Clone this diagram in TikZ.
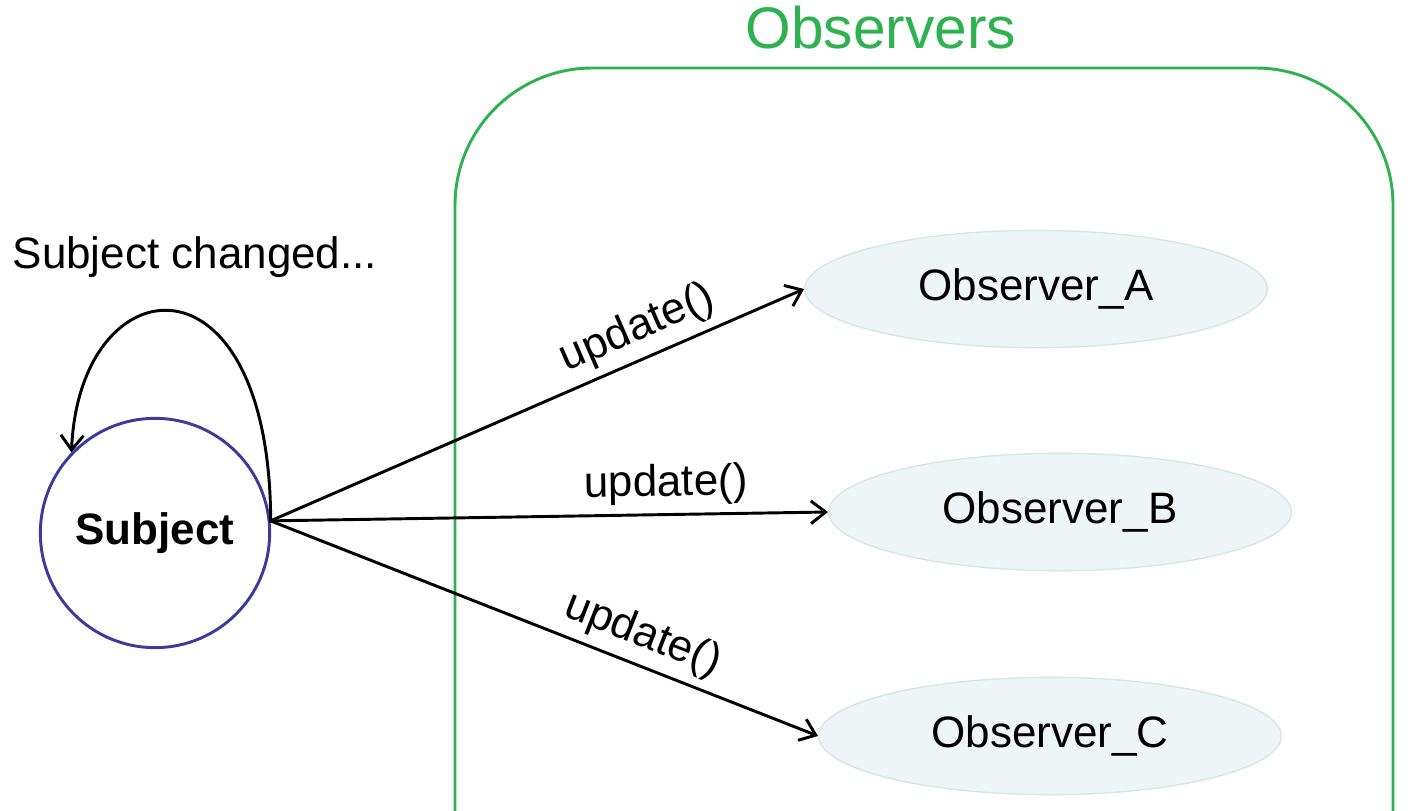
\documentclass[tikz,border=0pt]{standalone}
\usepackage{fontspec}
\setmainfont{Liberation Sans}
\usepackage{xcolor}
\definecolor{obsgreen}{HTML}{2EB24F}
\definecolor{subjblue}{HTML}{3E3A9C}
\definecolor{obsfill}{HTML}{EEF5F6}
\definecolor{obsline}{HTML}{D3E6E8}
\usepackage{tikz}
\usetikzlibrary{arrows.meta,shapes.geometric}

\tikzset{
  subject/.style={circle,draw=subjblue,line width=2.2pt,minimum size=172pt,inner sep=0pt,font=\fontsize{33}{40}\selectfont\bfseries},
  observer/.style={ellipse,draw=obsline,fill=obsfill,line width=1pt,minimum width=347pt,minimum height=88pt,font=\fontsize{33}{40}\selectfont},
  call/.style={line width=2.2pt,-{Straight Barb[length=11pt,width=17pt,line width=2.2pt]}},
  calllabel/.style={sloped,above,inner sep=6pt,font=\fontsize{33}{40}\selectfont}
}

\begin{document}
\begin{tikzpicture}[x=0.75pt,y=-0.75pt]
\useasboundingbox (0,0) rectangle (1413,810);

\draw[obsgreen,line width=2.2pt,rounded corners=103pt] (455,830) -- (455,68) -- (1393,68) -- (1393,830);
\node[obsgreen,anchor=base,font=\fontsize{44}{53}\selectfont] (title) at (881,48) {Observers};

\node[subject] (subj) at (155,533) {Subject};
\node[anchor=base west,font=\fontsize{33}{40}\selectfont] (changed) at (8,268) {Subject changed...};

\node[observer] (obsA) at (1036,289) {Observer\_A};
\node[observer] (obsB) at (1060,512) {Observer\_B};
\node[observer] (obsC) at (1050,736) {Observer\_C};

\draw[call] (subj.5) .. controls +(0,-280) and +(8,-190) .. (subj.136);

\draw[call] (subj.6) -- node[calllabel,pos=0.71] {update()} (obsA.west);
\draw[call] (subj.6) -- node[calllabel,pos=0.71] {update()} (obsB.west);
\draw[call] (subj.6) -- node[calllabel,pos=0.66] {update()} (obsC.west);
\end{tikzpicture}
\end{document}
